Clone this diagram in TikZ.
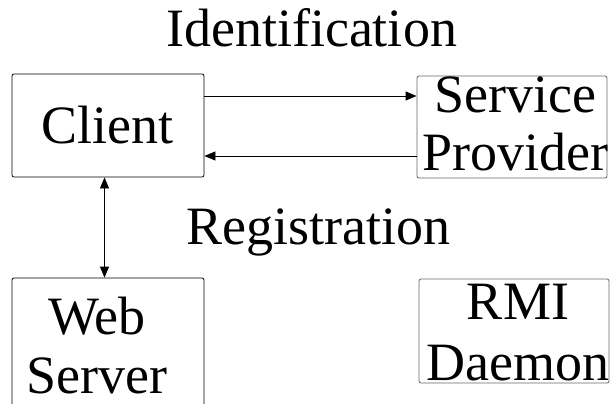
\documentclass[tikz,border=0pt]{standalone}
\usepackage{fontspec}
\setmainfont{Liberation Serif}
\usetikzlibrary{arrows.meta}
\begin{document}
\begin{tikzpicture}[x=1pt,y=1pt,
  box/.style={draw=black, line width=0.8pt, rounded corners=2pt, inner sep=0pt},
  gbox/.style={box, draw=black!60},
  txt/.style={inner sep=0pt, anchor=base, align=center},
  conn/.style={line width=0.8pt, -{Triangle[length=11pt,width=9pt]}},
  dconn/.style={line width=0.8pt, {Triangle[length=11pt,width=9pt]}-{Triangle[length=11pt,width=9pt]}}]
\useasboundingbox (0,0) rectangle (611,-404);
\node[box, minimum width=192pt, minimum height=103pt] (client) at (108,-125.5) {};
\node[gbox, minimum width=190pt, minimum height=102pt] (sp) at (512,-127) {};
\node[box, minimum width=192pt, minimum height=150pt] (web) at (108,-353) {};
\node[gbox, minimum width=190pt, minimum height=104pt] (rmi) at (514,-331) {};
\node[txt, font=\fontsize{54}{54}\selectfont] (tclient) at (107,-143) {Client};
\node[txt, font=\fontsize{54}{58}\selectfont] (tsp) at (515,-170) {Service\\Provider};
\node[txt, font=\fontsize{54}{59}\selectfont] (tweb) at (97,-393) {Web\\Server};
\node[txt, font=\fontsize{54}{61}\selectfont] (trmi) at (518,-380) {RMI\\Daemon};
\node[txt, font=\fontsize{54}{54}\selectfont] (ident) at (311.5,-47) {Identification};
\node[txt, font=\fontsize{54}{54}\selectfont] (reg) at (318,-244) {Registration};
\draw[conn] ([yshift=29.5pt]client.east) -- ([yshift=29.5pt]client.east -| sp.west);
\draw[conn] ([yshift=-30.5pt]client.east -| sp.west) -- ([yshift=-30.5pt]client.east);
\draw[dconn] ([xshift=-3.5pt]client.south) -- ([xshift=-3.5pt]client.south |- web.north);
\end{tikzpicture}
\end{document}
